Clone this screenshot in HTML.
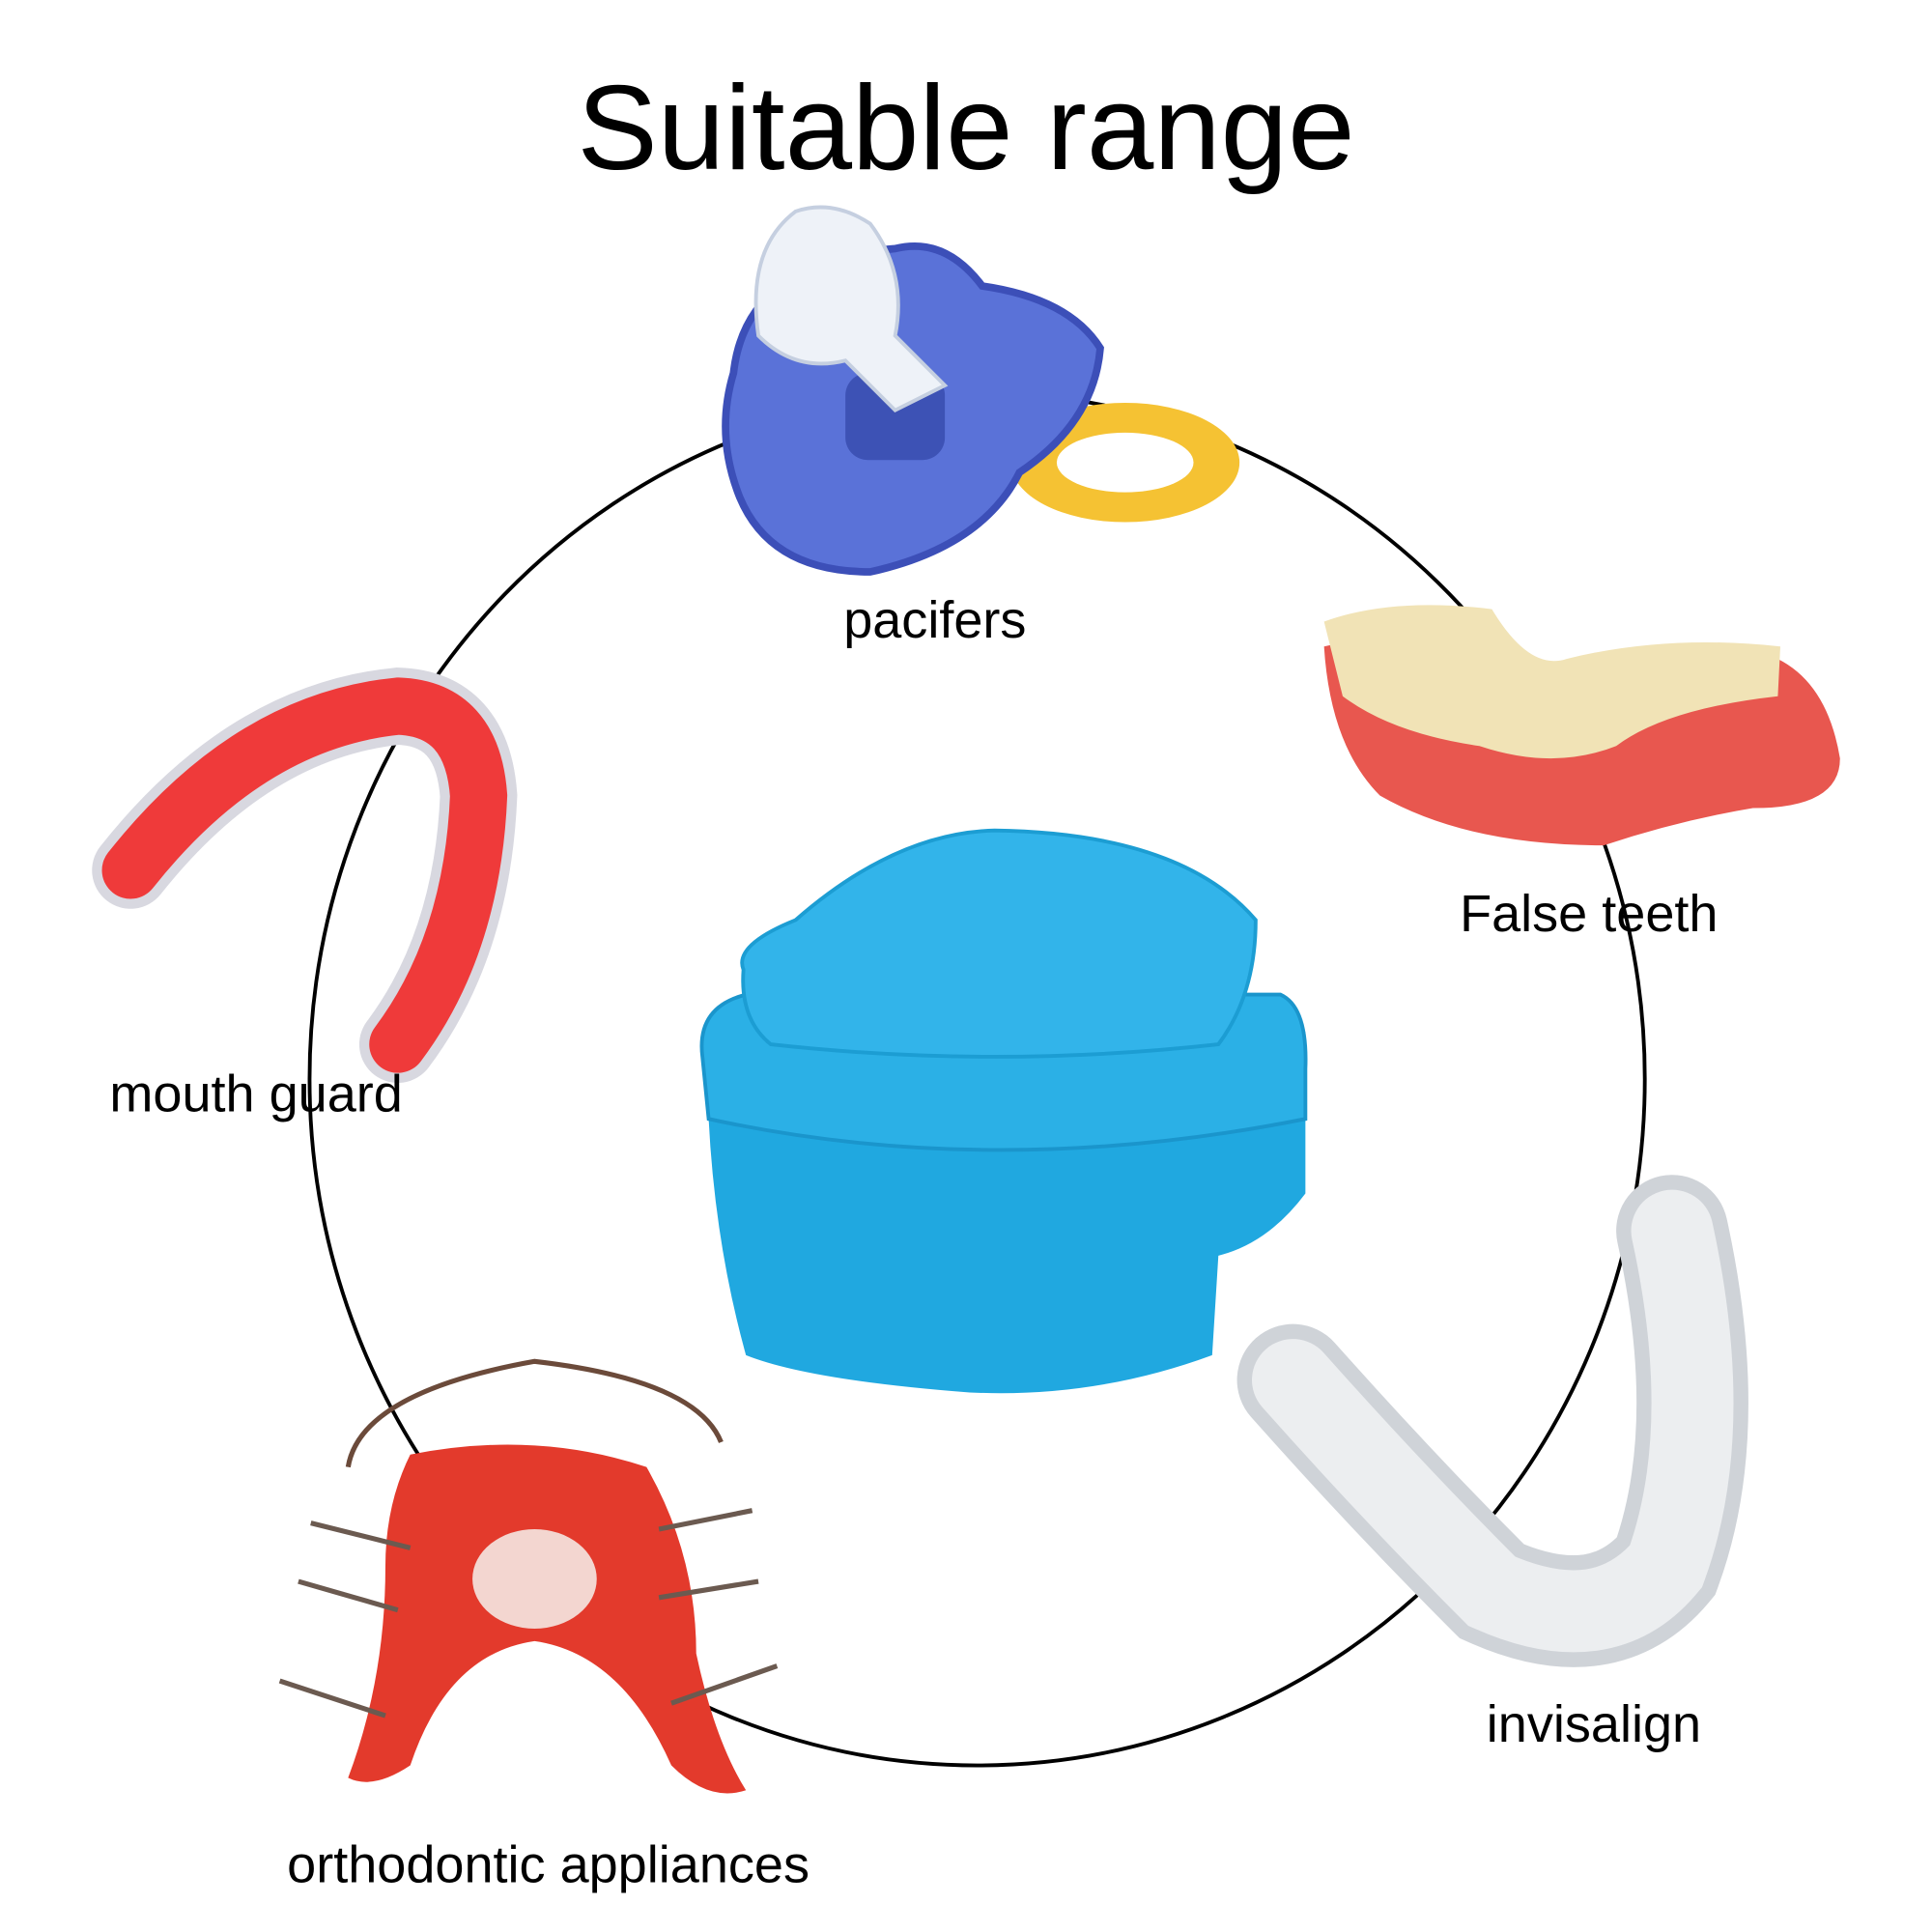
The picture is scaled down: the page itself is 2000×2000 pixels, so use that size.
<!DOCTYPE html>
<html><head><meta charset="utf-8"><style>
html,body{margin:0;padding:0;background:#fff;}
svg{display:block;}
text{font-family:"Liberation Sans",Arial,sans-serif;fill:#000;}
</style></head><body>
<svg width="2000" height="2000" viewBox="0 0 1554 1554" xmlns="http://www.w3.org/2000/svg">
<rect width="1554" height="1554" fill="#fff"/>
<ellipse cx="786" cy="868" rx="537" ry="552" fill="none" stroke="#000" stroke-width="3"/>
<text x="777" y="136" font-size="97" text-anchor="middle">Suitable range</text>

<!-- pacifier -->
<ellipse cx="905" cy="372" rx="92" ry="48" fill="#f5c233"/>
<ellipse cx="905" cy="372" rx="55" ry="24" fill="#fff"/>
<path d="M590 300 Q600 210 720 200 Q760 190 790 230 Q860 240 885 280 Q880 340 820 380 Q790 440 700 460 Q620 460 595 400 Q575 350 590 300Z" fill="#5a72d8" stroke="#3c4fb8" stroke-width="6"/>
<rect x="680" y="300" width="80" height="70" rx="18" fill="#3d52b5"/>
<path d="M640 170 Q600 200 610 270 Q640 300 680 290 L720 330 L760 310 L720 270 Q730 220 700 180 Q670 160 640 170Z" fill="#eef2f8" stroke="#c5cfe0" stroke-width="3"/>
<text x="752" y="513" font-size="42" text-anchor="middle">pacifers</text>

<!-- false teeth -->
<path d="M1065 520 Q1070 600 1110 640 Q1180 680 1290 680 Q1350 660 1410 650 Q1480 650 1480 610 Q1470 550 1430 530 Q1330 520 1240 540 Q1150 500 1065 520Z" fill="#e8574f"/>
<path d="M1065 500 Q1120 480 1200 490 Q1230 540 1260 530 Q1340 510 1432 520 L1430 560 Q1340 570 1300 600 Q1250 620 1190 600 Q1120 590 1080 560Z" fill="#f1e3b6"/>
<text x="1278" y="749" font-size="42" text-anchor="middle">False teeth</text>

<!-- mouth guard -->
<path d="M105 700 Q200 580 320 568 Q380 570 385 640 Q380 760 320 840" fill="none" stroke="#d8d8e0" stroke-width="62" stroke-linecap="round"/>
<path d="M105 700 Q200 580 320 568 Q380 570 385 640 Q380 760 320 840" fill="none" stroke="#ef3a3a" stroke-width="46" stroke-linecap="round"/>
<text x="206" y="894" font-size="42" text-anchor="middle">mouth guard</text>

<!-- box -->
<path d="M570 830 L1050 830 L1050 960 Q1020 1000 980 1010 L975 1090 Q880 1125 780 1120 Q650 1110 600 1090 Q575 1000 570 900Z" fill="#20a8e0"/>
<path d="M565 850 Q560 810 600 800 L1030 800 Q1052 810 1050 860 L1050 900 Q800 950 570 900Z" fill="#2bb0e6" stroke="#1a95cc" stroke-width="3"/>
<path d="M598 780 Q590 760 640 740 Q720 670 800 668 Q950 670 1010 740 Q1010 800 980 840 Q800 860 620 840 Q595 820 598 780Z" fill="#32b4ea" stroke="#1c9dd3" stroke-width="3"/>

<!-- invisalign -->
<path d="M1040 1110 Q1120 1200 1200 1280 Q1290 1320 1340 1260 Q1380 1150 1345 990" fill="none" stroke="#cfd3d8" stroke-width="90" stroke-linecap="round"/>
<path d="M1040 1110 Q1120 1200 1200 1280 Q1290 1320 1340 1260 Q1380 1150 1345 990" fill="none" stroke="#eceef0" stroke-width="66" stroke-linecap="round"/>
<text x="1282" y="1401" font-size="42" text-anchor="middle">invisalign</text>

<!-- orthodontic -->
<path d="M280 1180 Q290 1120 430 1095 Q560 1110 580 1160" fill="none" stroke="#6b4a3a" stroke-width="4"/>
<path d="M330 1170 Q430 1150 520 1180 Q560 1250 560 1330 Q575 1400 600 1440 Q570 1450 540 1420 Q500 1330 430 1320 Q360 1330 330 1420 Q300 1440 280 1430 Q310 1350 310 1260 Q310 1210 330 1170Z" fill="#e33a2c"/>
<ellipse cx="430" cy="1270" rx="50" ry="40" fill="#f3d6d0"/>
<g fill="none" stroke="#6b5a50" stroke-width="4">
<path d="M250 1225 L330 1245"/><path d="M240 1272 L320 1295"/><path d="M225 1352 L310 1380"/>
<path d="M605 1215 L530 1230"/><path d="M610 1272 L530 1285"/><path d="M625 1340 L540 1370"/>
</g>
<text x="441" y="1514" font-size="42" text-anchor="middle">orthodontic appliances</text>
</svg>
</body></html>
